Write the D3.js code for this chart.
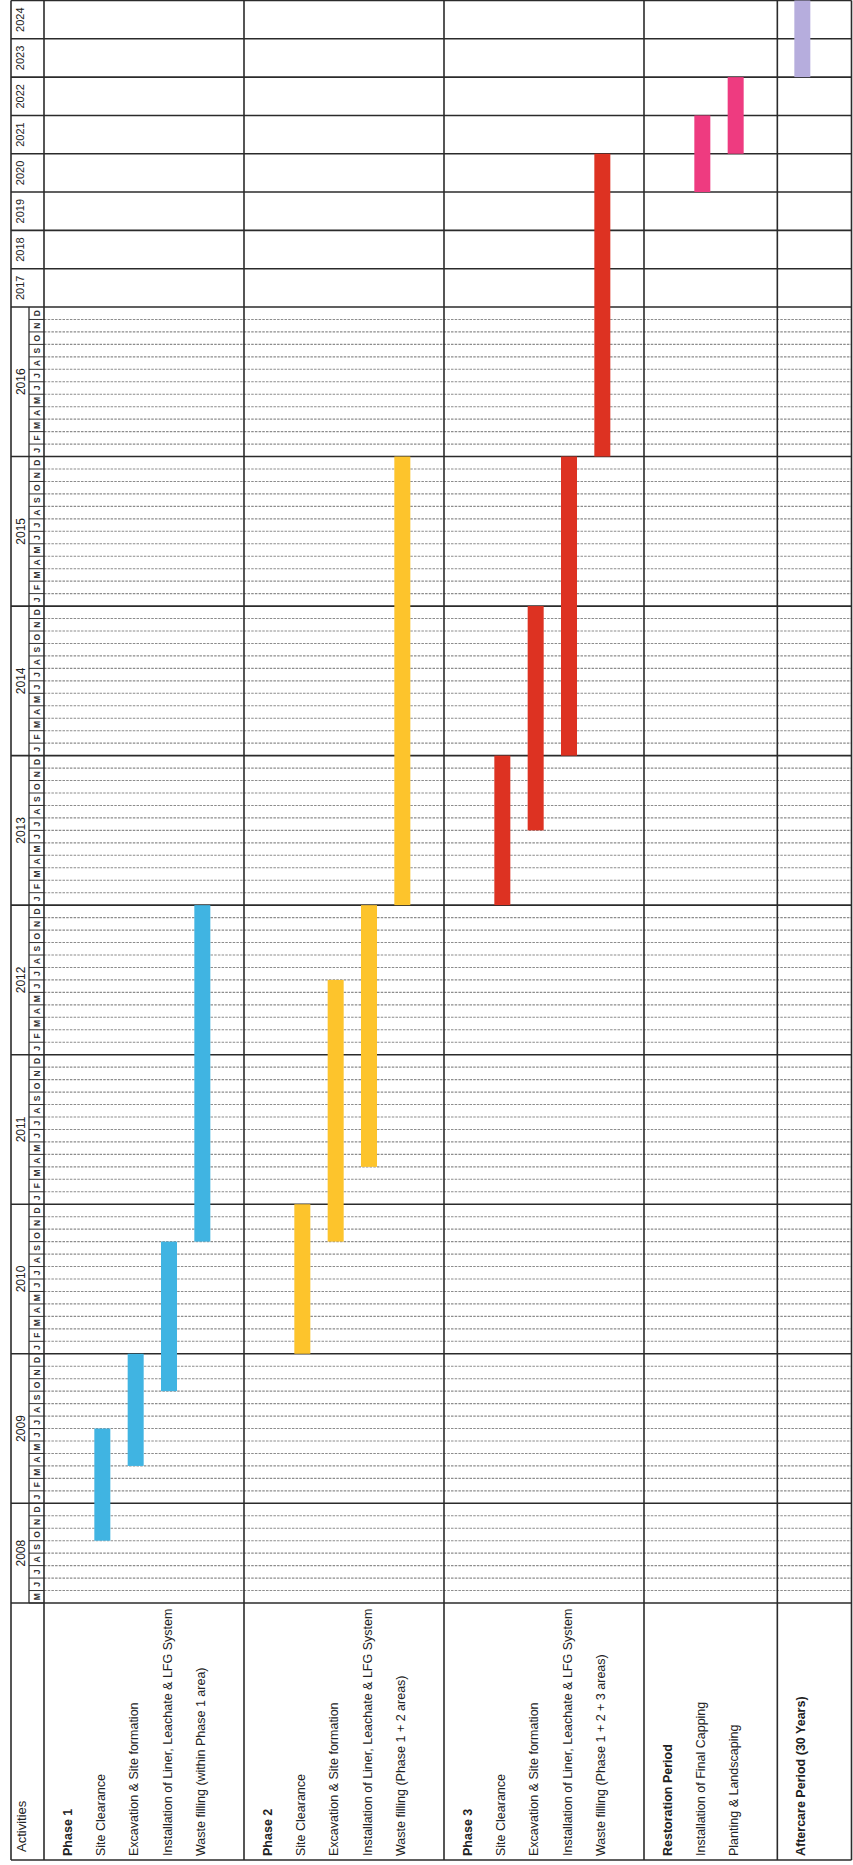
<!DOCTYPE html>
<html>
<head>
<meta charset="utf-8">
<script src="https://cdn.jsdelivr.net/npm/d3@7"></script>
<style>
  body { margin: 0; background: #fff; }
  svg { display: block; font-family: "Liberation Sans", Arial, sans-serif; }
</style>
</head>
<body>
<script>
// rows of the activity table (one slot per row, "" = empty spacer row)
const rowLabels = [
  "Phase 1", "Site Clearance", "Excavation & Site formation",
  "Installation of Liner, Leachate & LFG System", "Waste filling (within Phase 1 area)", "",
  "Phase 2", "Site Clearance", "Excavation & Site formation",
  "Installation of Liner, Leachate & LFG System", "Waste filling (Phase 1 + 2 areas)", "",
  "Phase 3", "Site Clearance", "Excavation & Site formation",
  "Installation of Liner, Leachate & LFG System", "Waste filling (Phase 1 + 2 + 3 areas)", "",
  "Restoration Period", "Installation of Final Capping", "Planting & Landscaping", "",
  "Aftercare Period (30 Years)", ""
];
const headerRows = ["Phase 1", "Phase 2", "Phase 3", "Restoration Period", "Aftercare Period (30 Years)"];
const sectionEnds = [5, 11, 17, 21];   // last row of each block

// time axis
const monthlyYears = [2008, 2009, 2010, 2011, 2012, 2013, 2014, 2015, 2016];
const yearlyYears = [2017, 2018, 2019, 2020, 2021, 2022, 2023, 2024];
const monthLetters = ["J", "F", "M", "A", "M", "J", "J", "A", "S", "O", "N", "D"];

// bars: row, first month, last month (inclusive), group
const taskRow   = [1, 2, 3, 4, 7, 8, 9, 10, 13, 14, 15, 16, 19, 20, 22];
const taskStart = ["2008-10", "2009-04", "2009-10", "2010-10", "2010-01", "2010-10", "2011-04", "2013-01",
                   "2013-01", "2013-07", "2014-01", "2016-01", "2020-01", "2021-01", "2023-01"];
const taskEnd   = ["2009-06", "2009-12", "2010-09", "2012-12", "2010-12", "2012-06", "2012-12", "2015-12",
                   "2013-12", "2014-12", "2015-12", "2020-12", "2021-12", "2022-12", "2024-12"];
const taskGroup = ["P1", "P1", "P1", "P1", "P2", "P2", "P2", "P2", "P3", "P3", "P3", "P3", "R", "R", "A"];
const groupColors = ["#40b4e2", "#fdc42c", "#dd3222", "#ee3b80", "#b6addd"];

const W = 853, H = 1865;
const xLeft = 11, xYearCol = 29, xBody = 44, xRight = 851.5;
const yTop = 0.5, yGrid = 1603, yBottom = 1860;

const toDec = s => { const [y, m] = s.split("-").map(Number); return y + (m - 1) / 12; };

const y = d3.scaleLinear()
  .domain([2008 + 4 / 12, 2017, 2025])
  .range([yGrid, 307, yTop]);

const x = d3.scaleBand()
  .domain(d3.range(rowLabels.length))
  .range([xBody, 844]);

const color = d3.scaleOrdinal()
  .domain(["P1", "P2", "P3", "R", "A"])
  .range(groupColors);

const svg = d3.select("body").append("svg")
  .attr("width", W)
  .attr("height", H)
  .attr("viewBox", [0, 0, W, H]);

const grid = svg.append("g");

// month boundaries (dotted in body, solid in month column)
const monthTicks = [];
monthlyYears.forEach(yr => {
  for (let m = 0; m < 12; m++) {
    const t = yr + m / 12;
    if (t < 2008 + 4 / 12) continue;
    monthTicks.push({ t, label: monthLetters[m] });
  }
});

grid.selectAll(".mline")
  .data(monthTicks.filter(d => d.t % 1 !== 0 && d.t > 2008 + 4 / 12 + 0.01))
  .join("line")
  .attr("x1", xBody).attr("x2", xRight)
  .attr("y1", d => y(d.t)).attr("y2", d => y(d.t))
  .attr("stroke", "#8c8c8c")
  .attr("stroke-width", 1.1)
  .attr("stroke-dasharray", "2.5,1.2");

grid.selectAll(".mcell")
  .data(monthTicks)
  .join("line")
  .attr("x1", xYearCol).attr("x2", xBody)
  .attr("y1", d => y(d.t)).attr("y2", d => y(d.t))
  .attr("stroke", "#333")
  .attr("stroke-width", 1);

// year boundaries
const yearLines = monthlyYears.slice(1).concat(yearlyYears).concat([2025]);
grid.selectAll(".yline")
  .data(yearLines)
  .join("line")
  .attr("x1", xLeft).attr("x2", xRight)
  .attr("y1", d => y(d)).attr("y2", d => y(d))
  .attr("stroke", "#2b2b2b")
  .attr("stroke-width", 1.6);

// grid bottom and table bottom
grid.append("line")
  .attr("x1", xLeft).attr("x2", xRight)
  .attr("y1", yGrid).attr("y2", yGrid)
  .attr("stroke", "#2b2b2b").attr("stroke-width", 1.6);
grid.append("line")
  .attr("x1", xLeft).attr("x2", xRight)
  .attr("y1", yBottom).attr("y2", yBottom)
  .attr("stroke", "#2b2b2b").attr("stroke-width", 1.6);

// vertical lines
grid.append("line").attr("x1", xLeft).attr("x2", xLeft).attr("y1", yTop).attr("y2", yBottom)
  .attr("stroke", "#2b2b2b").attr("stroke-width", 1.6);
grid.append("line").attr("x1", xYearCol).attr("x2", xYearCol).attr("y1", y(2017)).attr("y2", yGrid)
  .attr("stroke", "#2b2b2b").attr("stroke-width", 1.3);
grid.append("line").attr("x1", xBody).attr("x2", xBody).attr("y1", yTop).attr("y2", yBottom)
  .attr("stroke", "#2b2b2b").attr("stroke-width", 1.6);
grid.append("line").attr("x1", xRight).attr("x2", xRight).attr("y1", yTop).attr("y2", yBottom)
  .attr("stroke", "#2b2b2b").attr("stroke-width", 1.6);
grid.selectAll(".sep")
  .data(sectionEnds)
  .join("line")
  .attr("x1", d => x(d) + x.bandwidth()).attr("x2", d => x(d) + x.bandwidth())
  .attr("y1", yTop).attr("y2", yBottom)
  .attr("stroke", "#2b2b2b").attr("stroke-width", 1.6);

// year labels
const yearText = svg.append("g")
  .attr("font-size", 12)
  .attr("fill", "#222")
  .attr("text-anchor", "middle");

yearText.selectAll(".ym")
  .data(monthlyYears)
  .join("text")
  .attr("transform", d => {
    const mid = (y(Math.max(d, 2008 + 4 / 12)) + y(d + 1)) / 2;
    return `translate(24.5,${mid}) rotate(-90)`;
  })
  .text(d => d);

yearText.selectAll(".yy")
  .data(yearlyYears)
  .join("text")
  .attr("font-size", 11)
  .attr("transform", d => `translate(24,${(y(d) + y(d + 1)) / 2}) rotate(-90)`)
  .text(d => d);

// month letters
svg.append("g")
  .attr("font-size", 8.5)
  .attr("font-weight", "bold")
  .attr("fill", "#333")
  .attr("text-anchor", "middle")
  .selectAll("text")
  .data(monthTicks)
  .join("text")
  .attr("transform", d => `translate(40,${y(d.t + 1 / 24)}) rotate(-90)`)
  .text(d => d.label);

// bars
svg.append("g")
  .selectAll("rect")
  .data(taskRow.map((r, i) => ({ r, s: toDec(taskStart[i]), e: toDec(taskEnd[i]) + 1 / 12, g: taskGroup[i] })))
  .join("rect")
  .attr("x", d => x(d.r) + 17)
  .attr("width", 16)
  .attr("y", d => y(d.e))
  .attr("height", d => y(d.s) - y(d.e))
  .attr("fill", d => color(d.g));

// activity labels
const labels = svg.append("g")
  .attr("font-size", 12.5)
  .attr("fill", "#222");

labels.selectAll("text")
  .data(rowLabels.map((t, i) => ({ t, i })).filter(d => d.t))
  .join("text")
  .attr("transform", d => `translate(${x(d.i) + 27.5},1856) rotate(-90)`)
  .attr("font-weight", d => headerRows.includes(d.t) ? "bold" : "normal")
  .attr("stroke", "#fff")
  .attr("stroke-width", 3)
  .attr("paint-order", "stroke")
  .text(d => d.t);

labels.append("text")
  .attr("transform", "translate(26,1852) rotate(-90)")
  .attr("font-size", 13)
  .text("Activities");
</script>
</body>
</html>
